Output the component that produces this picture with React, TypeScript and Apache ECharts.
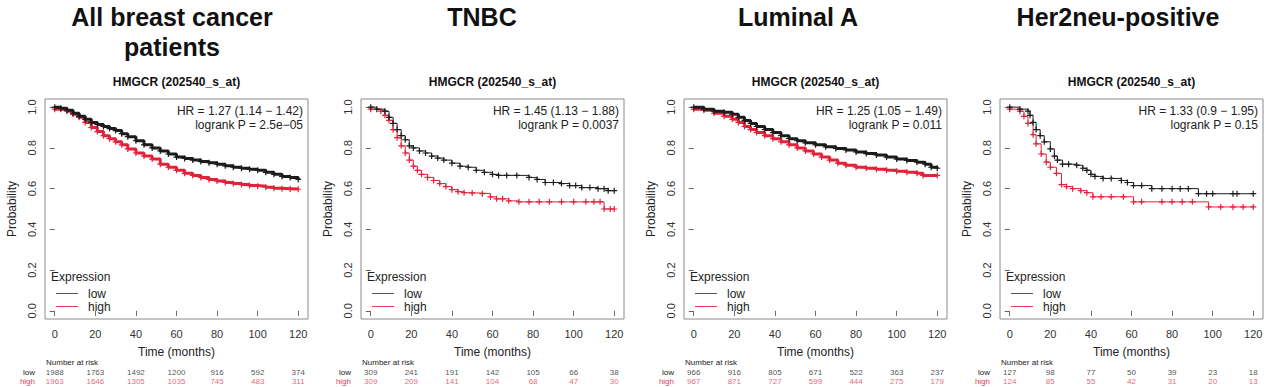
import React, { useEffect, useRef } from "react";
import * as echarts from "echarts";

// ---------- data ----------
const PANEL_TITLES = ["All breast cancer\npatients", "TNBC", "Luminal A", "Her2neu-positive"];
const PROBE = "HMGCR (202540_s_at)";
const HR_TEXT = ["HR = 1.27 (1.14 \u2212 1.42)", "HR = 1.45 (1.13 \u2212 1.88)", "HR = 1.25 (1.05 \u2212 1.49)", "HR = 1.33 (0.9 \u2212 1.95)"];
const P_TEXT = ["logrank P = 2.5e\u221205", "logrank P = 0.0037", "logrank P = 0.011", "logrank P = 0.15"];

const X_TICKS = [0, 20, 40, 60, 80, 100, 120];
const Y_TICKS = [0, 0.2, 0.4, 0.6, 0.8, 1.0];

// Kaplan-Meier curves [months, survival]
const ALL_LOW = [[0,1],[3,0.995],[6,0.985],[9,0.97],[12,0.955],[15,0.94],[18,0.925],[21,0.915],[24,0.905],[27,0.895],[30,0.885],[33,0.87],[36,0.855],[40,0.835],[44,0.815],[48,0.8],[52,0.785],[56,0.77],[60,0.755],[64,0.748],[68,0.74],[72,0.733],[76,0.727],[80,0.72],[84,0.712],[88,0.705],[92,0.7],[96,0.695],[100,0.69],[104,0.68],[108,0.67],[112,0.66],[116,0.655],[120,0.645]];
const ALL_HIGH = [[0,0.99],[3,0.99],[6,0.98],[9,0.965],[12,0.95],[15,0.925],[18,0.9],[21,0.88],[24,0.86],[27,0.845],[30,0.83],[33,0.815],[36,0.795],[40,0.775],[44,0.76],[48,0.745],[52,0.72],[56,0.705],[60,0.69],[64,0.675],[68,0.665],[72,0.655],[76,0.645],[80,0.637],[84,0.63],[88,0.625],[92,0.62],[96,0.615],[100,0.612],[104,0.607],[108,0.602],[112,0.6],[116,0.598],[120,0.597]];

const TNBC_LOW = [[0,1],[3,0.99],[7,0.98],[9,0.95],[11,0.92],[13,0.89],[15,0.86],[17,0.84],[19,0.81],[21,0.8],[24,0.785],[27,0.775],[30,0.76],[33,0.75],[36,0.74],[40,0.725],[44,0.71],[48,0.705],[52,0.69],[56,0.68],[60,0.67],[63,0.665],[67,0.665],[72,0.665],[78,0.655],[82,0.645],[86,0.63],[90,0.63],[94,0.625],[98,0.615],[101,0.615],[104,0.605],[108,0.605],[112,0.6],[115,0.6],[117,0.59],[120,0.59]];
const TNBC_HIGH = [[0,0.99],[5,0.98],[7,0.96],[9,0.935],[11,0.89],[13,0.85],[15,0.81],[17,0.775],[19,0.74],[21,0.71],[23,0.69],[25,0.67],[28,0.655],[31,0.64],[34,0.625],[37,0.61],[40,0.595],[43,0.585],[46,0.58],[50,0.578],[55,0.575],[59,0.56],[62,0.55],[65,0.55],[68,0.54],[73,0.535],[78,0.535],[83,0.535],[88,0.535],[94,0.535],[100,0.535],[106,0.535],[110,0.535],[113,0.535],[115,0.5],[118,0.5],[120,0.5]];

const LUMA_LOW = [[0,1],[5,0.99],[10,0.98],[15,0.975],[19,0.965],[22,0.95],[25,0.935],[28,0.92],[31,0.905],[35,0.89],[39,0.875],[43,0.86],[47,0.845],[51,0.835],[55,0.825],[60,0.815],[65,0.805],[70,0.797],[75,0.79],[80,0.78],[85,0.772],[90,0.765],[95,0.755],[100,0.745],[105,0.738],[110,0.73],[114,0.72],[117,0.705],[120,0.7]];
const LUMA_HIGH = [[0,0.99],[5,0.985],[10,0.97],[15,0.955],[19,0.94],[22,0.925],[25,0.905],[28,0.89],[31,0.875],[35,0.86],[39,0.845],[43,0.83],[47,0.815],[51,0.8],[55,0.785],[59,0.77],[63,0.755],[67,0.74],[71,0.725],[75,0.715],[80,0.705],[85,0.7],[90,0.695],[95,0.69],[100,0.685],[105,0.68],[110,0.675],[113,0.665],[120,0.665]];

const HER2_LOW = [[0,1],[5,0.99],[9,0.98],[10,0.96],[11.5,0.925],[13,0.89],[15,0.86],[17,0.83],[20,0.795],[22,0.76],[23.5,0.74],[26,0.72],[29,0.72],[33,0.715],[36,0.7],[38,0.69],[40,0.67],[42,0.66],[46,0.65],[50,0.65],[55,0.64],[58,0.63],[61,0.615],[65,0.615],[70,0.6],[75,0.6],[80,0.6],[84,0.6],[88,0.6],[93,0.575],[97,0.575],[100,0.575],[110,0.575],[112,0.575],[120,0.575]];
const HER2_HIGH = [[0,0.99],[5,0.98],[7,0.955],[9,0.92],[11.5,0.865],[13,0.82],[15.5,0.77],[18,0.73],[20,0.705],[23,0.675],[25.5,0.62],[28,0.61],[31,0.6],[35,0.59],[38,0.58],[41,0.56],[45,0.56],[50,0.56],[56,0.56],[61,0.535],[65,0.535],[75,0.535],[80,0.535],[85,0.535],[90,0.535],[98,0.51],[104,0.51],[110,0.51],[115,0.51],[120,0.51]];

// Number at risk
const RISK_ALL_LOW = [1988, 1763, 1492, 1200, 916, 592, 374];
const RISK_ALL_HIGH = [1963, 1646, 1305, 1035, 745, 483, 311];
const RISK_TNBC_LOW = [309, 241, 191, 142, 105, 66, 38];
const RISK_TNBC_HIGH = [309, 209, 141, 104, 68, 47, 30];
const RISK_LUMA_LOW = [966, 916, 805, 671, 522, 363, 237];
const RISK_LUMA_HIGH = [967, 871, 727, 599, 444, 275, 179];
const RISK_HER2_LOW = [127, 98, 77, 50, 39, 23, 18];
const RISK_HER2_HIGH = [124, 85, 55, 42, 31, 20, 13];

const CURVES = [
  [ALL_LOW, ALL_HIGH],
  [TNBC_LOW, TNBC_HIGH],
  [LUMA_LOW, LUMA_HIGH],
  [HER2_LOW, HER2_HIGH],
];
const RISKS = [
  [RISK_ALL_LOW, RISK_ALL_HIGH],
  [RISK_TNBC_LOW, RISK_TNBC_HIGH],
  [RISK_LUMA_LOW, RISK_LUMA_HIGH],
  [RISK_HER2_LOW, RISK_HER2_HIGH],
];

// ---------- styling ----------
const FONT = '"Liberation Sans", Arial, sans-serif';
const BLACK = "#1c1c1c";
const RED = "#e3223a";
const RED_TXT = "#e0405a";
const LEFTS = [45, 361, 684, 1000];
const TITLE_X = [172, 482, 798, 1118];
const W = 263;
const TOP = 99;
const H = 220;
const PLUS = "path://M4,0H6V4H10V6H6V10H4V6H0V4H4Z";
const THICK = [true, false, true, false];

export default function App() {
  const ref = useRef<HTMLDivElement>(null);
  useEffect(() => {
    if (!ref.current) return;
    const chart = echarts.init(ref.current, null, { renderer: "svg" });
    const grid: any[] = [];
    const xAxis: any[] = [];
    const yAxis: any[] = [];
    const series: any[] = [];
    const graphic: any[] = [];

    LEFTS.forEach((left, p) => {
      // main plot
      grid.push({ left, top: TOP, width: W, height: H, show: true, borderColor: "#8a8a8a", borderWidth: 1, backgroundColor: "transparent" });
      xAxis.push({
        gridIndex: 2 * p, type: "value", min: -4.8, max: 124.8,
        axisLine: { show: false },
        axisTick: { show: true, length: 5, customValues: X_TICKS, lineStyle: { color: "#666" } },
        axisLabel: { customValues: X_TICKS, fontSize: 11, margin: 9, color: "#333", fontFamily: FONT },
        splitLine: { show: false },
        name: "Time (months)", nameLocation: "middle", nameGap: 27,
        nameTextStyle: { fontSize: 12, color: "#222", fontFamily: FONT },
      });
      yAxis.push({
        gridIndex: 2 * p, type: "value", min: -0.04, max: 1.04,
        axisLine: { show: false },
        axisTick: { show: true, length: 5, customValues: Y_TICKS, lineStyle: { color: "#666" } },
        axisLabel: { customValues: Y_TICKS, rotate: 90, fontSize: 11, margin: 8, color: "#333", fontFamily: FONT, formatter: (v: number) => v.toFixed(1) },
        splitLine: { show: false },
        name: "Probability", nameLocation: "middle", nameGap: 27, nameRotate: 90,
        nameTextStyle: { fontSize: 12, color: "#222", fontFamily: FONT },
      });
      // risk table
      grid.push({ left, top: 367.5, width: W, height: 18, show: false });
      xAxis.push({ gridIndex: 2 * p + 1, type: "value", min: -4.8, max: 124.8, show: false });
      yAxis.push({
        gridIndex: 2 * p + 1, type: "category", data: ["high", "low"],
        axisLine: { show: false }, axisTick: { show: false }, splitLine: { show: false },
        axisLabel: { interval: 0, fontSize: 8, margin: 10, fontFamily: FONT, color: (v: string) => (v === "high" ? RED_TXT : "#222") },
      });

      const [low, high] = CURVES[p];
      [[low, BLACK, "low"], [high, RED, "high"]].forEach(([data, color, name]: any) => {
        series.push({
          type: "line", name, xAxisIndex: 2 * p, yAxisIndex: 2 * p, data, step: "end",
          showSymbol: true, showAllSymbol: true, symbol: PLUS, symbolSize: THICK[p] ? 6 : 6,
          lineStyle: { color, width: THICK[p] ? 3 : 1 }, itemStyle: { color },
          z: name === "low" ? 3 : 2,
        });
      });

      const [rl, rh] = RISKS[p];
      [[rl, "low", "#222"], [rh, "high", RED_TXT]].forEach(([vals, g, col]: any) => {
        series.push({
          type: "scatter", xAxisIndex: 2 * p + 1, yAxisIndex: 2 * p + 1,
          data: X_TICKS.map((t, i) => [t, g, vals[i]]),
          symbolSize: 1, itemStyle: { color: "rgba(0,0,0,0)" },
          label: { show: true, position: "inside", fontSize: 8, color: col, fontFamily: FONT, formatter: (q: any) => String(q.value[2]) },
        });
      });

      // texts
      const lines = PANEL_TITLES[p].split("\n");
      lines.forEach((t, i) => {
        graphic.push({ type: "text", x: TITLE_X[p], y: 17 + i * 30, style: { text: t, fill: "#111", font: `bold 25px ${FONT}`, textAlign: "center", align: "center", textVerticalAlign: "middle", verticalAlign: "middle" } });
      });
      graphic.push({ type: "text", x: left + W / 2, y: 82, style: { text: PROBE, fill: "#111", font: `bold 12px ${FONT}`, textAlign: "center", align: "center", textVerticalAlign: "middle", verticalAlign: "middle" } });
      graphic.push({ type: "text", x: left + 258, y: 111, style: { text: HR_TEXT[p], fill: "#222", font: `12px ${FONT}`, textAlign: "right", align: "right", textVerticalAlign: "middle", verticalAlign: "middle" } });
      graphic.push({ type: "text", x: left + 258, y: 125, style: { text: P_TEXT[p], fill: "#222", font: `12px ${FONT}`, textAlign: "right", align: "right", textVerticalAlign: "middle", verticalAlign: "middle" } });
      // legend
      graphic.push({ type: "text", x: left + 6, y: 277, style: { text: "Expression", fill: "#222", font: `12px ${FONT}`, textAlign: "left", align: "left", textVerticalAlign: "middle", verticalAlign: "middle" } });
      graphic.push({ type: "line", shape: { x1: left + 11, y1: 293.5, x2: left + 33, y2: 293.5 }, style: { stroke: "#555", lineWidth: 1 } });
      graphic.push({ type: "line", shape: { x1: left + 11, y1: 306.5, x2: left + 33, y2: 306.5 }, style: { stroke: RED_TXT, lineWidth: 1 } });
      graphic.push({ type: "text", x: left + 43, y: 294, style: { text: "low", fill: "#222", font: `12px ${FONT}`, textAlign: "left", align: "left", textVerticalAlign: "middle", verticalAlign: "middle" } });
      graphic.push({ type: "text", x: left + 43, y: 307, style: { text: "high", fill: "#222", font: `12px ${FONT}`, textAlign: "left", align: "left", textVerticalAlign: "middle", verticalAlign: "middle" } });
      graphic.push({ type: "text", x: left + 1, y: 362, style: { text: "Number at risk", fill: "#222", font: `8px ${FONT}`, textAlign: "left", align: "left", textVerticalAlign: "middle", verticalAlign: "middle" } });
    });

    chart.setOption({
      animation: false,
      backgroundColor: "#ffffff",
      textStyle: { fontFamily: FONT },
      grid, xAxis, yAxis, series, graphic,
    });
    return () => chart.dispose();
  }, []);
  return <div ref={ref} style={{ position: "fixed", left: 0, top: 0, width: 1272, height: 387, background: "#fff" }} />;
}
